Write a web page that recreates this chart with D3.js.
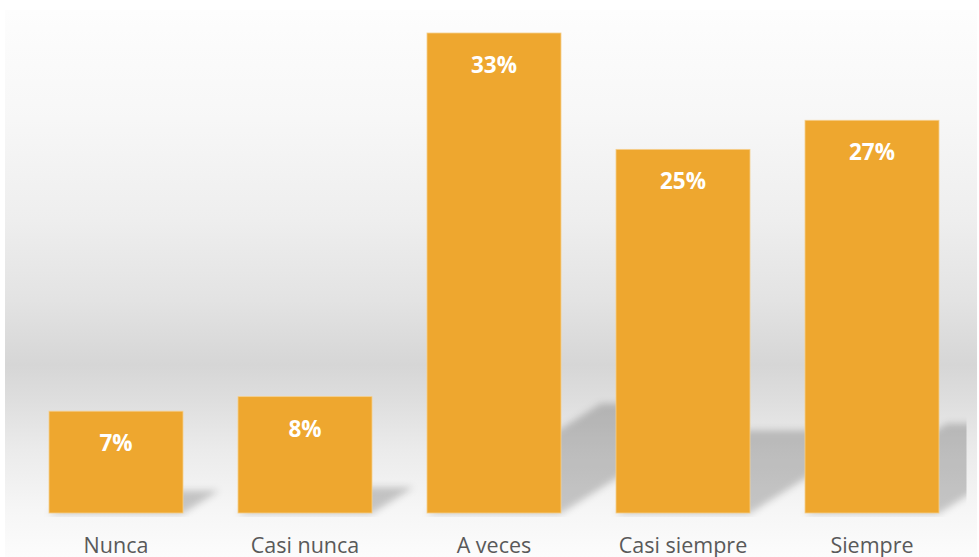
<!DOCTYPE html>
<html>
<head>
<meta charset="utf-8">
<script src="https://cdn.jsdelivr.net/npm/d3@7"></script>
<style>
  html, body { margin: 0; padding: 0; background: #ffffff; }
  svg { display: block; }
</style>
</head>
<body>
<div id="chart"></div>
<script>
// Survey answers and their share of responses (%)
const categories = ["Nunca", "Casi nunca", "A veces", "Casi siempre", "Siempre"];
const values = [7, 8, 33, 25, 27];
const valueLabels = values.map(v => v + "%");

const width = 979, height = 557;
const plot = { left: 21.5, right: 966.5, top: 33, bottom: 513 };

const svg = d3.select("#chart").append("svg")
  .attr("width", width)
  .attr("height", height);

const defs = svg.append("defs");

// Chart area backdrop: light at top, darkest band behind the bar bases, fading out below
const bgStops = [
  [10, "#fdfdfd"], [120, "#f7f7f7"], [220, "#eeeeee"], [300, "#e3e3e3"],
  [365, "#d6d6d6"], [400, "#dedede"], [450, "#ebebeb"], [510, "#f6f6f6"], [557, "#fcfcfc"]
];
const bg = defs.append("linearGradient")
  .attr("id", "bgGrad")
  .attr("gradientUnits", "userSpaceOnUse")
  .attr("x1", 0).attr("x2", 0).attr("y1", 10).attr("y2", 557);
bg.selectAll("stop").data(bgStops).join("stop")
  .attr("offset", d => (d[0] - 10) / (557 - 10))
  .attr("stop-color", d => d[1]);

defs.append("filter")
  .attr("id", "shadowBlur")
  .attr("x", "-20%").attr("y", "-20%").attr("width", "140%").attr("height", "140%")
  .append("feGaussianBlur").attr("stdDeviation", 3.8);

defs.append("clipPath").attr("id", "plotClip")
  .append("rect")
  .attr("x", plot.left).attr("y", 0)
  .attr("width", plot.right - plot.left).attr("height", plot.bottom + 4);

svg.append("rect")
  .attr("x", 5).attr("y", 10)
  .attr("width", 972).attr("height", 560)
  .attr("fill", "url(#bgGrad)");

const x = d3.scaleBand()
  .domain(categories)
  .range([plot.left, plot.right])
  .paddingInner(0.291)
  .paddingOuter(0.1455);

const y = d3.scaleLinear()
  .domain([0, 33])
  .range([plot.bottom, plot.top]);

const data = categories.map((c, i) => ({ cat: c, value: values[i], label: valueLabels[i] }));

// Perspective shadows cast up and to the right of each bar
const skew = Math.tan(20 * Math.PI / 180), squash = 0.23;
const shadows = svg.append("g")
  .attr("clip-path", "url(#plotClip)")
  .append("g")
  .attr("transform", "translate(-0.9,0.9)")
  .attr("filter", "url(#shadowBlur)");

shadows.selectAll("polygon").data(data).join("polygon")
  .attr("points", d => {
    const x0 = x(d.cat), x1 = x0 + x.bandwidth();
    const base = y(0), h = y(0) - y(d.value);
    const dx = skew * h, dy = squash * h;
    return [[x0, base], [x1, base], [x1 + dx, base - dy], [x0 + dx, base - dy]]
      .map(p => p.join(",")).join(" ");
  })
  .attr("fill", "#000")
  .attr("fill-opacity", 0.2);

// Bars
svg.append("g").selectAll("rect").data(data).join("rect")
  .attr("x", d => x(d.cat))
  .attr("y", d => y(d.value))
  .attr("width", x.bandwidth())
  .attr("height", d => y(0) - y(d.value))
  .attr("fill", "#eea72f")
  .attr("stroke", "#f6cf8c")
  .attr("stroke-width", 0.8);

// Value labels inside the top of each bar
svg.append("g").selectAll("text").data(data).join("text")
  .attr("x", d => x(d.cat) + x.bandwidth() / 2)
  .attr("y", d => y(d.value) + 40)
  .attr("text-anchor", "middle")
  .attr("font-family", "'Open Sans', 'DejaVu Sans', sans-serif")
  .attr("font-weight", 700)
  .attr("font-size", 22.5)
  .attr("fill", "#ffffff")
  .text(d => d.label);

// Category axis labels
const xAxis = d3.axisBottom(x).tickSize(0).tickPadding(0);
const axisG = svg.append("g")
  .attr("transform", `translate(0,${plot.bottom})`)
  .call(xAxis);
axisG.select(".domain").remove();
axisG.selectAll("text")
  .attr("dy", null)
  .attr("y", 39.5)
  .attr("font-family", "'Open Sans', 'DejaVu Sans', sans-serif")
  .attr("font-size", 21.5)
  .attr("fill", "#595959");
</script>
</body>
</html>
